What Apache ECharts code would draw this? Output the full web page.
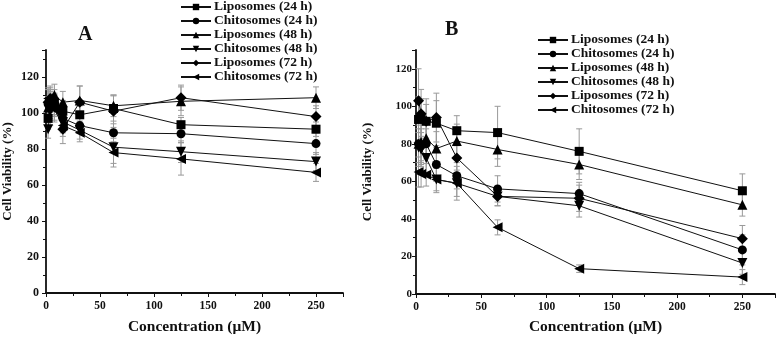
<!DOCTYPE html>
<html>
<head>
<meta charset="utf-8">
<script src="https://cdn.jsdelivr.net/npm/echarts@6/dist/echarts.min.js"></script>
<style>
html,body{margin:0;padding:0;background:#fff}
#chart{width:778px;height:340px}
</style>
</head>
<body>
<div id="chart"></div>
<script>
// concentrations (uM)
const conc = [1.95, 3.9, 7.8, 15.6, 31.25, 62.5, 125, 250];
const seriesNames = ['Liposomes (24 h)', 'Chitosomes (24 h)', 'Liposomes (48 h)',
                     'Chitosomes (48 h)', 'Liposomes (72 h)', 'Chitosomes (72 h)'];

// panel A - cell viability (%)
const aLipo24  = [97, 104, 106, 101, 99, 102.5, 93.5, 91];
const aChito24 = [105, 107, 104, 97, 93, 89, 88.5, 83];
const aLipo48  = [103, 108, 110, 106, 107, 104, 106.5, 108.5];
const aChito48 = [91, 101, 103, 95, 90.5, 81, 78.5, 73];
const aLipo72  = [106, 108, 105, 91, 106, 101, 108.5, 98];
const aChito72 = [108, 104, 102, 93, 89, 78, 74.5, 67];
// panel A - error (+/-)
const aErrLipo24  = [6, 8, 7, 6, 5, 7, 4, 4];
const aErrChito24 = [8, 6, 6, 5, 4, 5, 5, 6];
const aErrLipo48  = [6, 7, 6, 6, 8, 6, 8, 6];
const aErrChito48 = [5, 8, 7, 6, 5, 9, 6, 5];
const aErrLipo72  = [7, 6, 6, 8, 9, 9, 7, 6];
const aErrChito72 = [6, 7, 7, 6, 5, 8, 9, 5];

// panel B - cell viability (%)
const bLipo24  = [93, 94, 92, 91, 87, 86, 76, 55];
const bChito24 = [80, 79, 80, 69, 63, 56, 53.5, 23.5];
const bLipo48  = [80, 81, 83, 77.5, 81.5, 77, 69, 47.5];
const bChito48 = [78, 77, 72.5, 61, 59, 52, 47, 16.5];
const bLipo72  = [103, 96, 92, 94, 72.5, 52, 51, 29.5];
const bChito72 = [65, 64, 63.5, 61, 59, 35.5, 13.5, 9];
// panel B - error (+/-)
const bErrLipo24  = [12, 10, 9, 12, 8, 14, 12, 9];
const bErrChito24 = [10, 9, 8, 9, 7, 7, 6, 8];
const bErrLipo48  = [15, 12, 10, 9, 9, 9, 8, 6];
const bErrChito48 = [10, 9, 8, 7, 7, 5, 6, 6];
const bErrLipo72  = [17, 13, 12, 13, 8, 5, 7, 7];
const bErrChito72 = [8, 7, 6, 6, 9, 4, 2, 4];

const symbols = ['rect', 'circle', 'triangle', 'triangle', 'diamond', 'triangle'];
const symbolRot = [0, 0, 0, 180, 0, 90];
const symbolSizes = [9, 9, 10, 10, 11, 10];

const font = 'Liberation Serif';
const aVals = [aLipo24, aChito24, aLipo48, aChito48, aLipo72, aChito72];
const aErrs = [aErrLipo24, aErrChito24, aErrLipo48, aErrChito48, aErrLipo72, aErrChito72];
const bVals = [bLipo24, bChito24, bLipo48, bChito48, bLipo72, bChito72];
const bErrs = [bErrLipo24, bErrChito24, bErrLipo48, bErrChito48, bErrLipo72, bErrChito72];

function lineSeries(vals, idx){
    return vals.map((v, i) => ({
        type: 'line',
        name: seriesNames[i],
        xAxisIndex: idx,
        yAxisIndex: idx,
        data: conc.map((c, k) => [c, v[k]]),
        symbol: symbols[i],
        symbolRotate: symbolRot[i],
        symbolSize: symbolSizes[i],
        showAllSymbol: true,
        lineStyle: {color: '#111', width: 1},
        itemStyle: {color: '#000'},
        z: 3,
        animation: false
    }));
}

function errorSeries(vals, errs, idx){
    let data = [];
    vals.forEach((v, i) => {
        conc.forEach((c, k) => data.push([c, v[k] - errs[i][k], v[k] + errs[i][k]]));
    });
    return {
        type: 'custom',
        name: 'err' + idx,
        xAxisIndex: idx,
        yAxisIndex: idx,
        data: data,
        z: 1,
        animation: false,
        renderItem(params, api){
            let lo = api.coord([api.value(0), api.value(1)]);
            let hi = api.coord([api.value(0), api.value(2)]);
            let w = 3;
            let st = {stroke: '#999', lineWidth: 1};
            return {
                type: 'group',
                children: [
                    {type: 'line', shape: {x1: lo[0], y1: lo[1], x2: hi[0], y2: hi[1]}, style: st},
                    {type: 'line', shape: {x1: lo[0] - w, y1: lo[1], x2: lo[0] + w, y2: lo[1]}, style: st},
                    {type: 'line', shape: {x1: hi[0] - w, y1: hi[1], x2: hi[0] + w, y2: hi[1]}, style: st}
                ]
            };
        }
    };
}

function xAxis(idx, gap){
    return {
        type: 'value',
        gridIndex: idx,
        min: 0, max: 275, interval: 50,
        name: 'Concentration (μM)',
        nameLocation: 'middle',
        nameGap: gap,
        nameTextStyle: {fontFamily: font, fontWeight: 'bold', fontSize: 15.5, color: '#111'},
        axisLine: {lineStyle: {color: '#111', width: 1.8}},
        axisTick: {length: 4, lineStyle: {color: '#111', width: 1}},
        minorTick: {show: true, splitNumber: 2, length: 3, lineStyle: {color: '#111'}},
        axisLabel: {fontFamily: font, fontWeight: 'bold', fontSize: 11.5, color: '#111', margin: 7, showMaxLabel: false},
        splitLine: {show: false}
    };
}

function yAxis(idx, max, gap, margin, labelSize){
    return {
        type: 'value',
        gridIndex: idx,
        min: 0, max: max, interval: 20,
        name: 'Cell Viability (%)',
        nameLocation: 'middle',
        nameGap: gap,
        nameTextStyle: {fontFamily: font, fontWeight: 'bold', fontSize: 13, color: '#111'},
        axisLine: {show: true, lineStyle: {color: '#111', width: 1.8}},
        axisTick: {show: true, length: 4, lineStyle: {color: '#111', width: 1}},
        minorTick: {show: true, splitNumber: 2, length: 3, lineStyle: {color: '#111'}},
        axisLabel: {fontFamily: font, fontWeight: 'bold', fontSize: labelSize, color: '#111', margin: margin, showMaxLabel: false},
        splitLine: {show: false}
    };
}

function legend(left, top){
    return {
        orient: 'vertical',
        left: left,
        top: top,
        padding: 0,
        itemWidth: 30,
        itemHeight: 8,
        itemGap: 0,
        data: seriesNames,
        textStyle: {fontFamily: font, fontWeight: 'bold', fontSize: 13.5, color: '#111', lineHeight: 13.3, padding: [0, 0, 0, -2]},
        selectedMode: false
    };
}

const chart = echarts.init(document.getElementById('chart'));
chart.setOption({
    backgroundColor: '#fff',
    animation: false,
    title: [
        {text: 'A', left: 73, top: 20, textStyle: {fontFamily: font, fontWeight: 'bold', fontSize: 20, color: '#111'}},
        {text: 'B', left: 440, top: 15, textStyle: {fontFamily: font, fontWeight: 'bold', fontSize: 20, color: '#111'}}
    ],
    legend: [legend(180, 0), legend(537, 33)],
    grid: [
        {left: 41, top: 50, width: 302, height: 246},
        {left: 416, top: 50, width: 359, height: 246}
    ],
    xAxis: [xAxis(0, 26), xAxis(1, 25)],
    yAxis: [yAxis(0, 135, 32, 7, 12), yAxis(1, 130, 42, 4, 11)],
    series: [
        errorSeries(aVals, aErrs, 0),
        errorSeries(bVals, bErrs, 1),
        ...lineSeries(aVals, 0),
        ...lineSeries(bVals, 1)
    ]
});
</script>
</body>
</html>
